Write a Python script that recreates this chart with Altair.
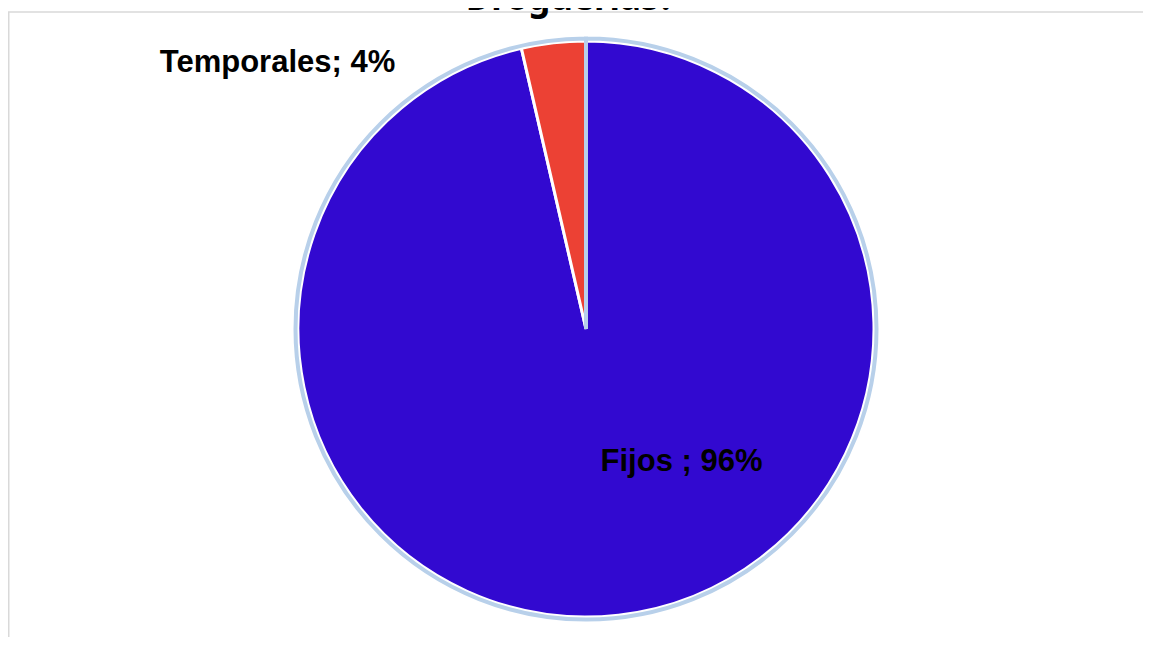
import altair as alt
import pandas as pd

categorias = ["Fijos", "Temporales"]
porcentajes = [96.4, 3.6]
etiquetas = ["Fijos ; 96%", "Temporales; 4%"]
colores = ["#3209d0", "#ec4134"]
titulo = "Droguerías?"

df = pd.DataFrame({
    "categoria": categorias,
    "valor": porcentajes,
    "etiqueta": etiquetas,
    "orden": list(range(len(categorias))),
})

W, H = 1135, 629
CX, CY = 578, 321
R = 288

frame_top = alt.Chart(pd.DataFrame({"a": [0]})).mark_rule(
    color="#d9d9d9", strokeWidth=1.5
).encode(x=alt.value(0), x2=alt.value(W), y=alt.value(4))

frame_left = alt.Chart(pd.DataFrame({"a": [0]})).mark_rule(
    color="#d9d9d9", strokeWidth=1.5
).encode(x=alt.value(0.75), y=alt.value(4), y2=alt.value(H))

slices = alt.Chart(df).mark_arc(
    radius=R, stroke="white", strokeWidth=3
).encode(
    theta=alt.Theta("valor:Q", stack=True),
    color=alt.Color("categoria:N",
                    scale=alt.Scale(domain=categorias, range=colores),
                    legend=None),
    order=alt.Order("orden:Q"),
    x=alt.value(CX), y=alt.value(CY),
)

ring = alt.Chart(pd.DataFrame({"a": [1]})).mark_arc(
    radius=R + 2.5, fillOpacity=0, stroke="#b8d0ea", strokeWidth=4,
    theta=0, theta2=6.2831853
).encode(x=alt.value(CX), y=alt.value(CY))

lab_fijos = alt.Chart(df[df.categoria == "Fijos"]).mark_text(
    font="Liberation Sans", fontWeight="bold", fontSize=31, color="black",
    align="center", baseline="alphabetic"
).encode(text="etiqueta:N", x=alt.value(673.5), y=alt.value(463))

lab_temp = alt.Chart(df[df.categoria == "Temporales"]).mark_text(
    font="Liberation Sans", fontWeight="bold", fontSize=31, color="black",
    align="center", baseline="alphabetic"
).encode(text="etiqueta:N", x=alt.value(269.5), y=alt.value(64))

title = alt.Chart(pd.DataFrame({"t": [titulo]})).mark_text(
    font="Noto Sans", fontWeight="bold", fontSize=35, color="black",
    align="center", baseline="alphabetic"
).encode(text="t:N", x=alt.value(562.5), y=alt.value(2))

chart = alt.layer(
    frame_top, frame_left, slices, ring, lab_fijos, lab_temp, title
).properties(
    width=W, height=H, padding=0,
    autosize=alt.AutoSizeParams(type="none"),
).configure_view(stroke=None)

chart.save("out.html", embed_options={"renderer": "svg", "actions": False})
